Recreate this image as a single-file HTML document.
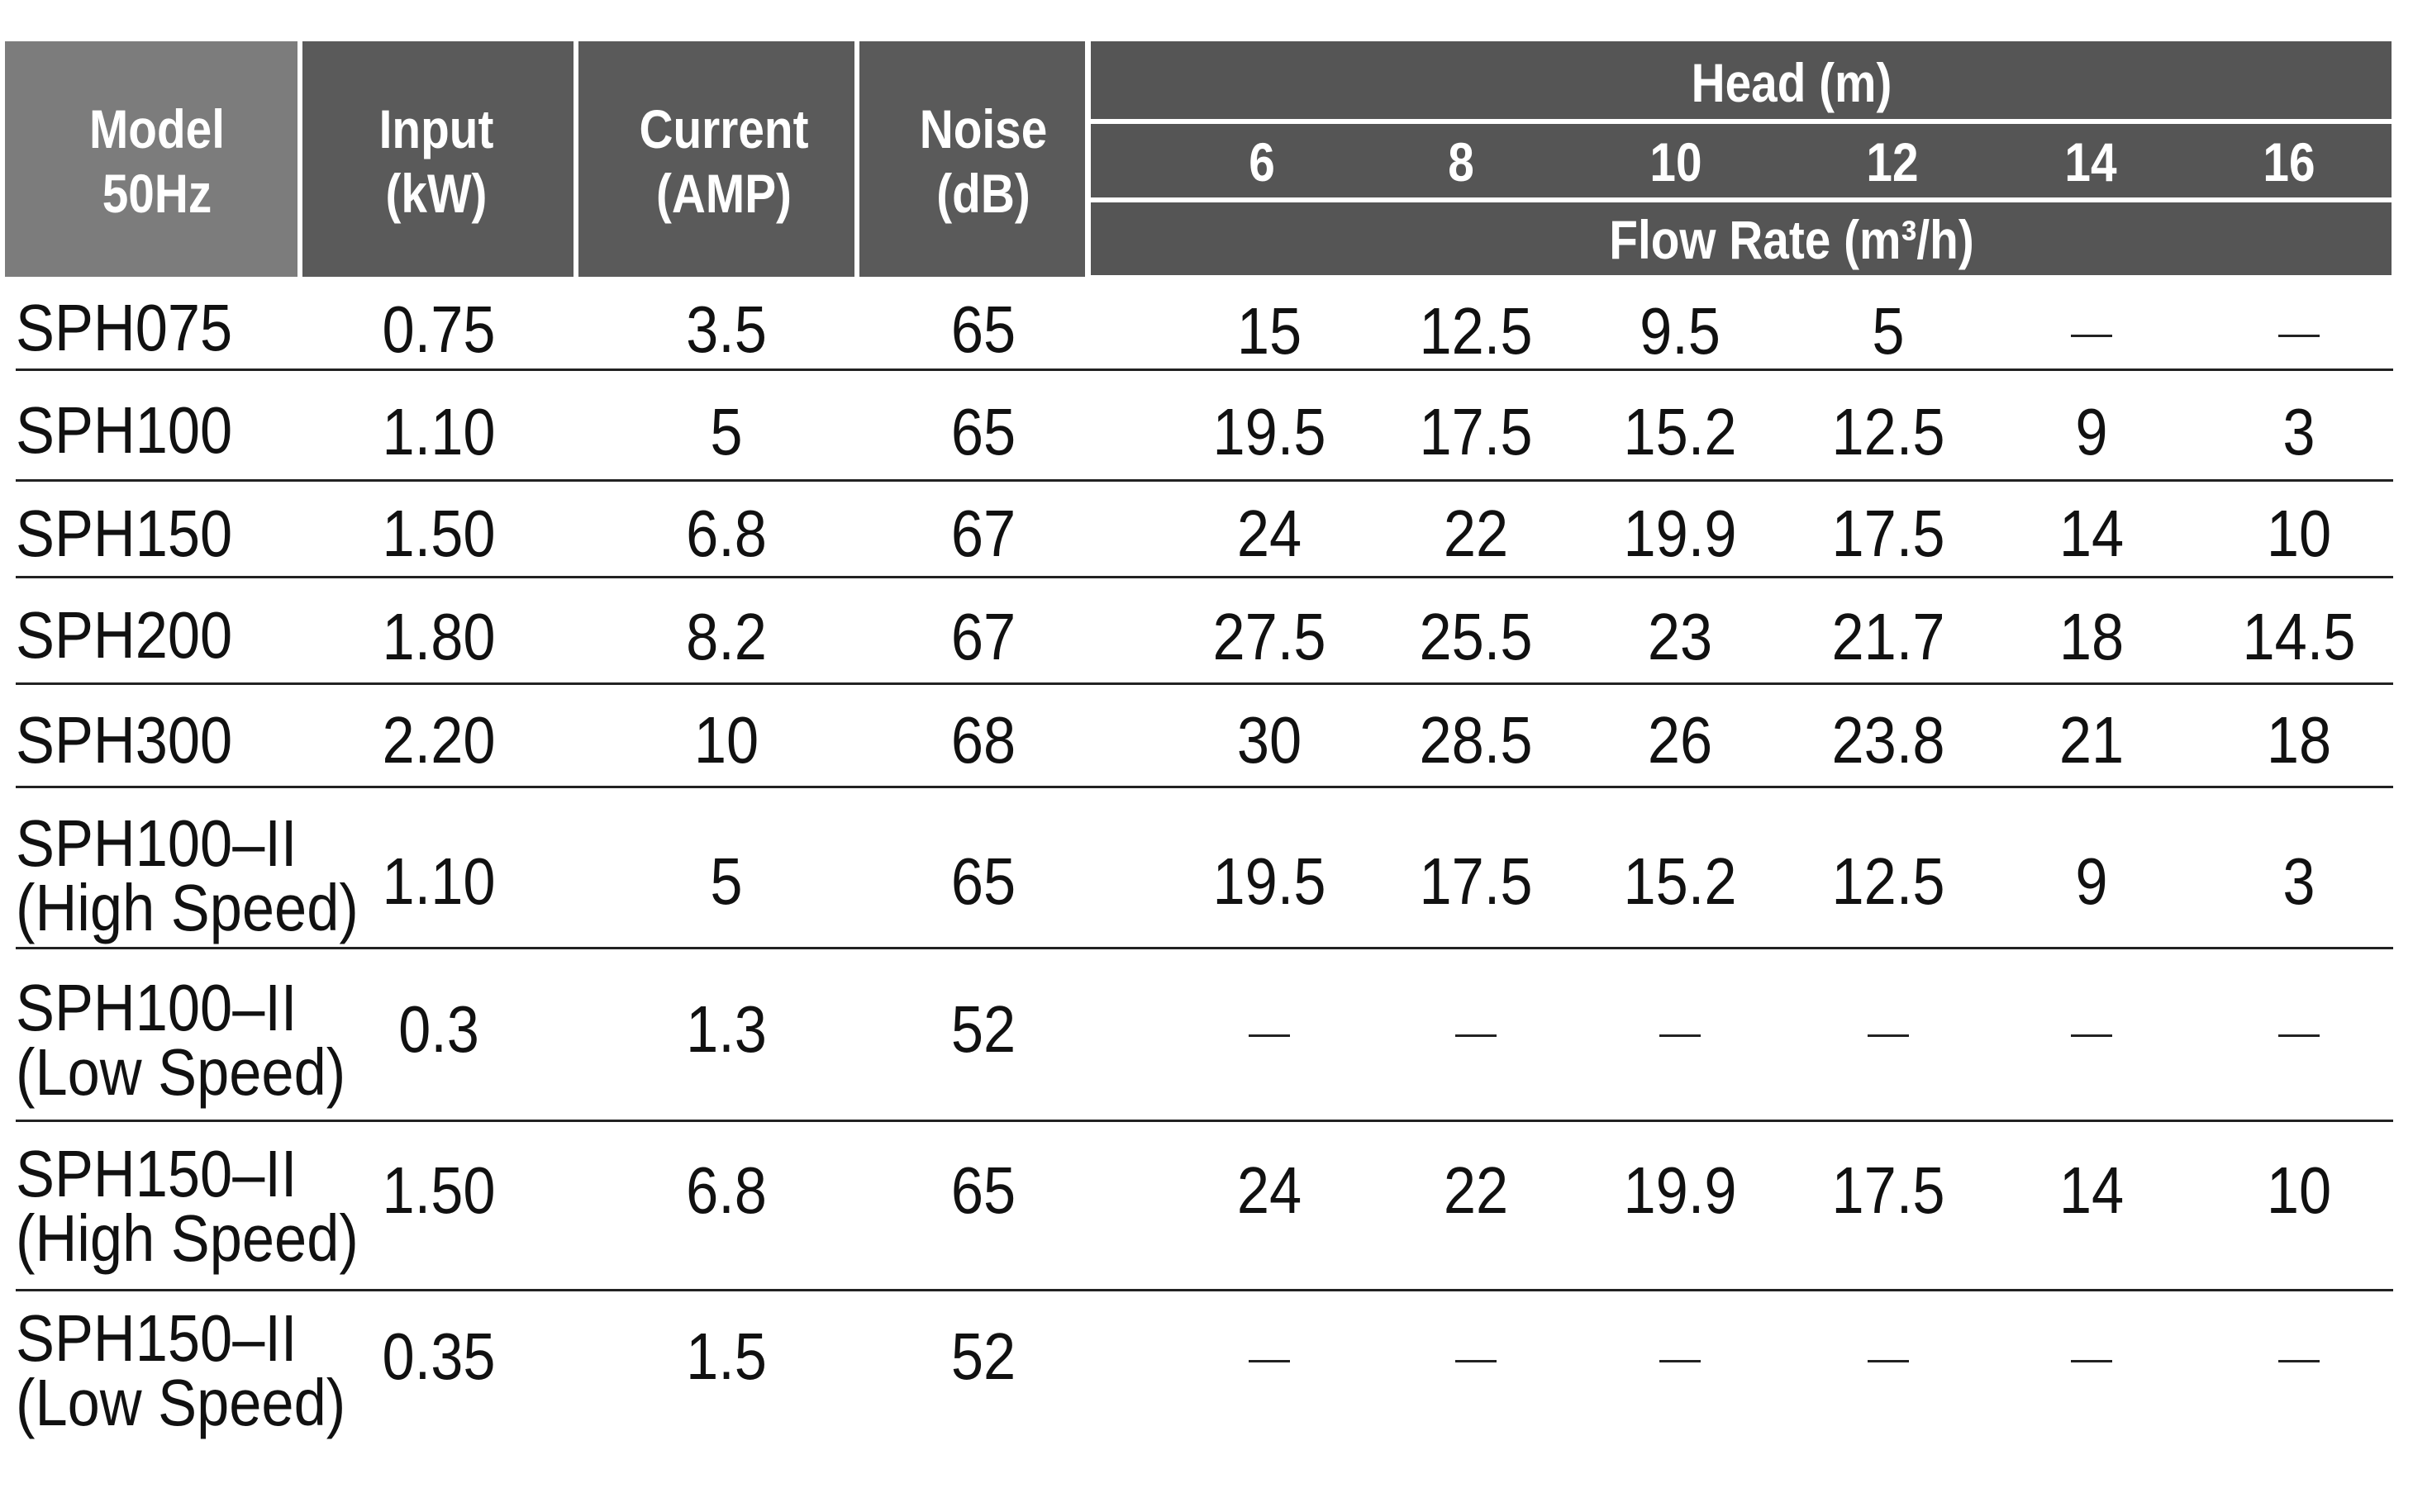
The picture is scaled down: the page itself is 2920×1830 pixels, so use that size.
<!DOCTYPE html>
<html><head><meta charset="utf-8"><style>
body{margin:0;width:2920px;height:1830px;background:#fff;position:relative;overflow:hidden;font-family:"Liberation Sans",sans-serif}
.b{position:absolute}
.h{position:absolute;color:#fff;font-size:66px;font-weight:bold;transform:translate(-50%,-50%) scaleX(0.86);white-space:nowrap;text-align:center;line-height:78px}
.t{position:absolute;color:#111;font-size:80px;transform:translate(-50%,-50%) scaleX(0.88);white-space:nowrap;line-height:80px}
.m{position:absolute;color:#111;font-size:80px;transform:translateY(-50%) scaleX(0.88);transform-origin:left center;white-space:nowrap;line-height:78px;left:19px}
.d{position:absolute;width:50px;height:3px;background:#222;transform:translateX(-50%)}
.l{position:absolute;left:19px;width:2877px;height:3px;background:#222}
</style></head><body>
<div class="b" style="left:6px;top:50px;width:354px;height:285px;background:#7c7c7c"></div>
<div class="b" style="left:366px;top:50px;width:328px;height:285px;background:#5a5a5a"></div>
<div class="b" style="left:700px;top:50px;width:334px;height:285px;background:#5a5a5a"></div>
<div class="b" style="left:1040px;top:50px;width:273px;height:285px;background:#5a5a5a"></div>
<div class="b" style="left:1320px;top:50px;width:1574px;height:94px;background:#555"></div>
<div class="b" style="left:1320px;top:150px;width:1574px;height:89px;background:#555"></div>
<div class="b" style="left:1320px;top:245px;width:1574px;height:88px;background:#555"></div>
<div class="h" style="left:190px;top:195px">Model<br>50Hz</div>
<div class="h" style="left:528px;top:195px">Input<br>(kW)</div>
<div class="h" style="left:876px;top:195px">Current<br>(AMP)</div>
<div class="h" style="left:1190px;top:195px">Noise<br>(dB)</div>
<div class="h" style="left:2168px;top:100px">Head (m)</div>
<div class="h" style="left:1527px;top:196px">6</div>
<div class="h" style="left:1768px;top:196px">8</div>
<div class="h" style="left:2028px;top:196px">10</div>
<div class="h" style="left:2290px;top:196px">12</div>
<div class="h" style="left:2530px;top:196px">14</div>
<div class="h" style="left:2770px;top:196px">16</div>
<div class="h" style="left:2168px;top:290px">Flow Rate (m³/h)</div>

<div class="l" style="top:446px"></div><div class="l" style="top:580px"></div><div class="l" style="top:697px"></div><div class="l" style="top:826px"></div><div class="l" style="top:951px"></div><div class="l" style="top:1146px"></div><div class="l" style="top:1355px"></div><div class="l" style="top:1560px"></div>

<div class="m" style="top:397px">SPH075</div>
<div class="m" style="top:521px">SPH100</div>
<div class="m" style="top:646px">SPH150</div>
<div class="m" style="top:769px">SPH200</div>
<div class="m" style="top:896px">SPH300</div>
<div class="m" style="top:1060px">SPH100–II<br>(High Speed)</div>
<div class="m" style="top:1259px">SPH100–II<br>(Low Speed)</div>
<div class="m" style="top:1460px">SPH150–II<br>(High Speed)</div>
<div class="m" style="top:1659px">SPH150–II<br>(Low Speed)</div>

<div class="t" style="left:531px;top:399px">0.75</div><div class="t" style="left:879px;top:399px">3.5</div><div class="t" style="left:1190px;top:399px">65</div>
<div class="t" style="left:1536px;top:401px">15</div><div class="t" style="left:1786px;top:401px">12.5</div><div class="t" style="left:2033px;top:401px">9.5</div><div class="t" style="left:2285px;top:401px">5</div>
<div class="d" style="left:2531px;top:405px"></div><div class="d" style="left:2782px;top:405px"></div>
<div class="t" style="left:531px;top:523px">1.10</div><div class="t" style="left:879px;top:523px">5</div><div class="t" style="left:1190px;top:523px">65</div>
<div class="t" style="left:1536px;top:523px">19.5</div><div class="t" style="left:1786px;top:523px">17.5</div><div class="t" style="left:2033px;top:523px">15.2</div><div class="t" style="left:2285px;top:523px">12.5</div><div class="t" style="left:2531px;top:523px">9</div><div class="t" style="left:2782px;top:523px">3</div>
<div class="t" style="left:531px;top:646px">1.50</div><div class="t" style="left:879px;top:646px">6.8</div><div class="t" style="left:1190px;top:646px">67</div>
<div class="t" style="left:1536px;top:646px">24</div><div class="t" style="left:1786px;top:646px">22</div><div class="t" style="left:2033px;top:646px">19.9</div><div class="t" style="left:2285px;top:646px">17.5</div><div class="t" style="left:2531px;top:646px">14</div><div class="t" style="left:2782px;top:646px">10</div>
<div class="t" style="left:531px;top:771px">1.80</div><div class="t" style="left:879px;top:771px">8.2</div><div class="t" style="left:1190px;top:771px">67</div>
<div class="t" style="left:1536px;top:771px">27.5</div><div class="t" style="left:1786px;top:771px">25.5</div><div class="t" style="left:2033px;top:771px">23</div><div class="t" style="left:2285px;top:771px">21.7</div><div class="t" style="left:2531px;top:771px">18</div><div class="t" style="left:2782px;top:771px">14.5</div>
<div class="t" style="left:531px;top:896px">2.20</div><div class="t" style="left:879px;top:896px">10</div><div class="t" style="left:1190px;top:896px">68</div>
<div class="t" style="left:1536px;top:896px">30</div><div class="t" style="left:1786px;top:896px">28.5</div><div class="t" style="left:2033px;top:896px">26</div><div class="t" style="left:2285px;top:896px">23.8</div><div class="t" style="left:2531px;top:896px">21</div><div class="t" style="left:2782px;top:896px">18</div>
<div class="t" style="left:531px;top:1067px">1.10</div><div class="t" style="left:879px;top:1067px">5</div><div class="t" style="left:1190px;top:1067px">65</div>
<div class="t" style="left:1536px;top:1067px">19.5</div><div class="t" style="left:1786px;top:1067px">17.5</div><div class="t" style="left:2033px;top:1067px">15.2</div><div class="t" style="left:2285px;top:1067px">12.5</div><div class="t" style="left:2531px;top:1067px">9</div><div class="t" style="left:2782px;top:1067px">3</div>
<div class="t" style="left:531px;top:1246px">0.3</div><div class="t" style="left:879px;top:1246px">1.3</div><div class="t" style="left:1190px;top:1246px">52</div>
<div class="d" style="left:1536px;top:1252px"></div><div class="d" style="left:1786px;top:1252px"></div><div class="d" style="left:2033px;top:1252px"></div><div class="d" style="left:2285px;top:1252px"></div><div class="d" style="left:2531px;top:1252px"></div><div class="d" style="left:2782px;top:1252px"></div>
<div class="t" style="left:531px;top:1441px">1.50</div><div class="t" style="left:879px;top:1441px">6.8</div><div class="t" style="left:1190px;top:1441px">65</div>
<div class="t" style="left:1536px;top:1441px">24</div><div class="t" style="left:1786px;top:1441px">22</div><div class="t" style="left:2033px;top:1441px">19.9</div><div class="t" style="left:2285px;top:1441px">17.5</div><div class="t" style="left:2531px;top:1441px">14</div><div class="t" style="left:2782px;top:1441px">10</div>
<div class="t" style="left:531px;top:1642px">0.35</div><div class="t" style="left:879px;top:1642px">1.5</div><div class="t" style="left:1190px;top:1642px">52</div>
<div class="d" style="left:1536px;top:1646px"></div><div class="d" style="left:1786px;top:1646px"></div><div class="d" style="left:2033px;top:1646px"></div><div class="d" style="left:2285px;top:1646px"></div><div class="d" style="left:2531px;top:1646px"></div><div class="d" style="left:2782px;top:1646px"></div>
</body></html>
